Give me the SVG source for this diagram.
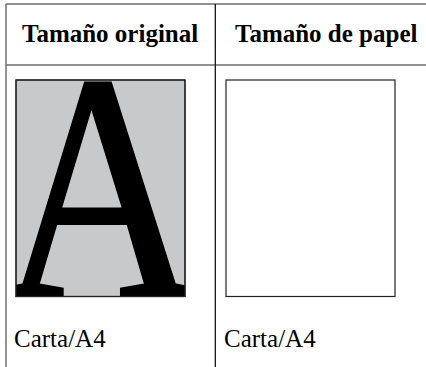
<svg xmlns="http://www.w3.org/2000/svg" width="426" height="367" viewBox="0 0 426 367">
  <defs>
    <style>
      .head { font-family: "Liberation Serif", serif; font-weight: bold; font-size: 25px; fill: #000; }
      .cell { font-family: "Liberation Serif", serif; font-size: 25px; fill: #000; }
      .grid { stroke: #6e6e6e; stroke-width: 1.5; fill: none; }
      .page { stroke: #222; stroke-width: 1.2; }
    </style>
    <clipPath id="clipA">
      <rect x="16" y="80" width="169" height="216.5"/>
    </clipPath>
  </defs>
  <rect width="426" height="367" fill="#fff"/>
  <g id="table">
    <line class="grid" x1="6" y1="4" x2="426" y2="4"/>
    <line class="grid" x1="6" y1="65" x2="426" y2="65"/>
    <line class="grid" x1="6" y1="4" x2="6" y2="367" stroke-width="2"/>
    <line x1="215.3" y1="4" x2="215.3" y2="367" stroke="#111" stroke-width="1.3"/>
  </g>
  <g id="header-original">
    <text class="head" x="22" y="42.3">Tamaño original</text>
  </g>
  <g id="header-paper">
    <text class="head" x="235" y="42.3">Tamaño de papel</text>
  </g>
  <g id="original">
    <rect x="16" y="80" width="169" height="216.5" fill="#c8c9cb" class="page"/>
    <g clip-path="url(#clipA)">
      <text x="100" y="297.5" text-anchor="middle" font-family="'Liberation Serif', serif" font-size="325" stroke="#000" stroke-width="3" stroke-linejoin="miter" transform="translate(100 0) scale(0.85 1) translate(-100 0)">A</text>
    </g>
    <rect x="16" y="80" width="169" height="216.5" fill="none" class="page"/>
  </g>
  <g id="paper">
    <rect x="226" y="80" width="169" height="216.5" fill="#fff" class="page"/>
  </g>
  <g id="label-original">
    <text class="cell" x="14" y="347">Carta/A4</text>
  </g>
  <g id="label-paper">
    <text class="cell" x="224" y="347">Carta/A4</text>
  </g>
</svg>
